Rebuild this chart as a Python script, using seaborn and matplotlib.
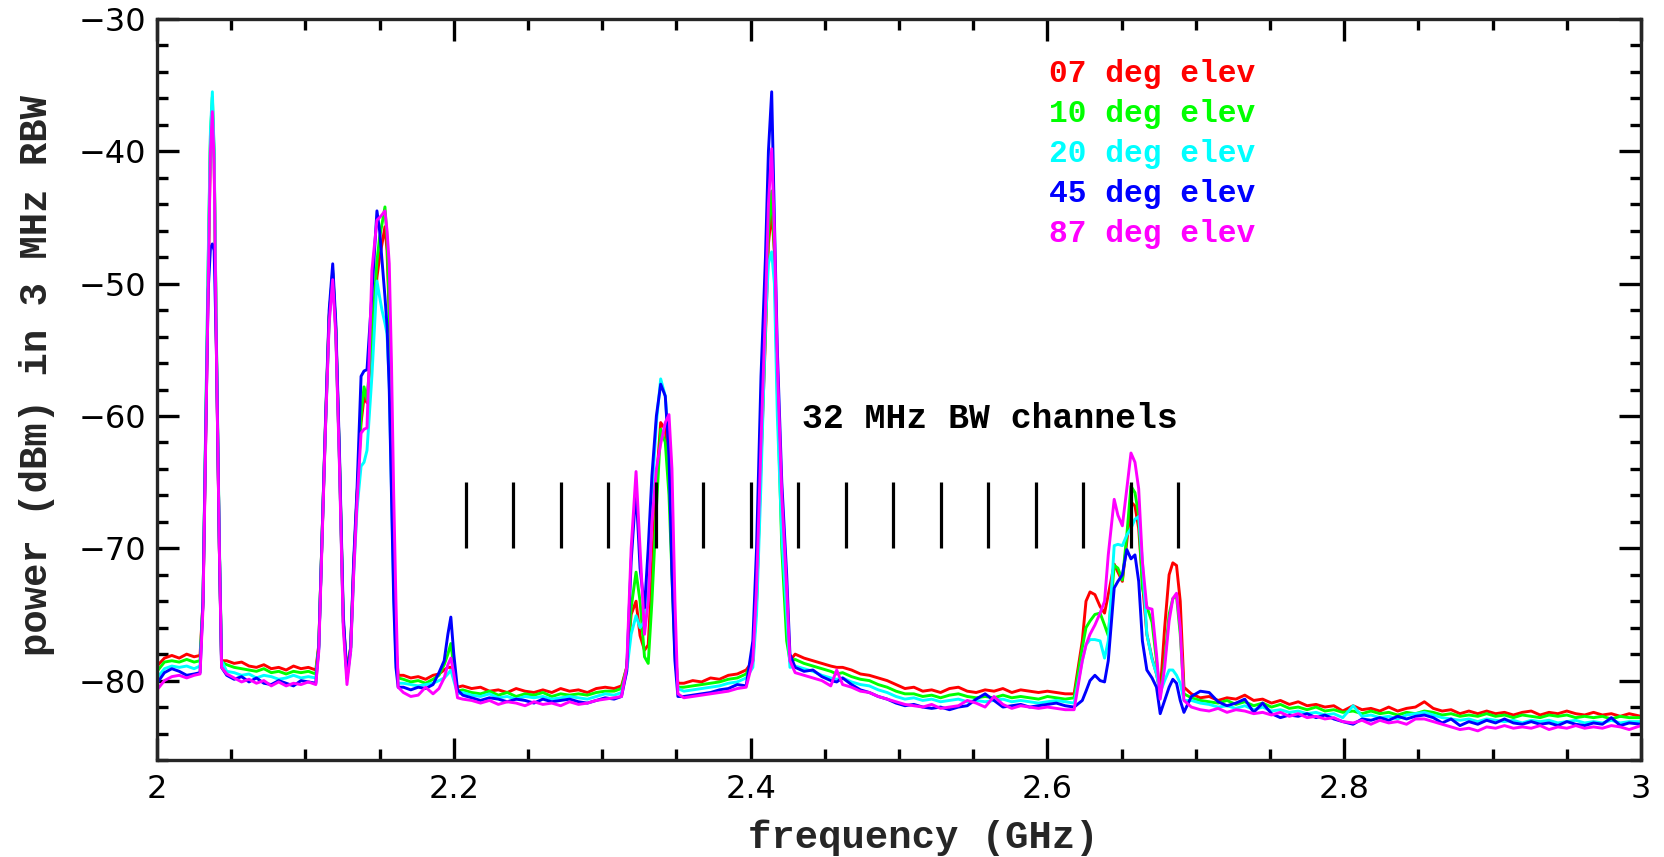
import pandas as pd
import matplotlib
matplotlib.use('Agg')
import matplotlib.pyplot as plt
from matplotlib.ticker import MultipleLocator, FuncFormatter
import seaborn as sns

# frequency grid (GHz), one segment per line
freq = [2.000, 2.005, 2.010, 2.015, 2.020, 2.025, 2.029,
        2.031, 2.0325, 2.0345, 2.036, 2.0373, 2.0385, 2.040, 2.042, 2.0435,
        2.047, 2.052, 2.057, 2.062, 2.067, 2.072, 2.077, 2.082, 2.087, 2.092, 2.097, 2.102, 2.107,
        2.109, 2.1115, 2.1135, 2.116, 2.1184, 2.1205, 2.123, 2.1255, 2.128,
        2.1305, 2.1325, 2.1348, 2.1375, 2.1395, 2.1415, 2.1448, 2.1482, 2.1500, 2.1516, 2.1536, 2.1550, 2.1565, 2.1580, 2.1595, 2.1610, 2.1625,
        2.166, 2.171, 2.176, 2.181, 2.186, 2.190,
        2.1935, 2.196, 2.198, 2.200, 2.2025,
        2.206, 2.212, 2.218, 2.224, 2.230, 2.236, 2.242, 2.248, 2.254, 2.260, 2.266, 2.272, 2.278, 2.284, 2.290, 2.296, 2.302, 2.308, 2.313,
        2.3165, 2.3195, 2.3228, 2.3255, 2.3285, 2.331, 2.3335, 2.3365, 2.3394, 2.3425, 2.345, 2.347, 2.349, 2.351,
        2.355, 2.361, 2.367, 2.373, 2.379, 2.385, 2.391, 2.397,
        2.4015, 2.404, 2.407, 2.410, 2.412, 2.4142, 2.416, 2.418, 2.421, 2.4243, 2.4265,
        2.430, 2.436, 2.442, 2.448, 2.454, 2.458, 2.462, 2.468, 2.474, 2.480, 2.486, 2.492, 2.498, 2.504, 2.510, 2.516, 2.522, 2.528, 2.534, 2.540,
        2.546, 2.552, 2.558, 2.564, 2.570, 2.576, 2.582, 2.588, 2.594, 2.600, 2.606, 2.612, 2.618,
        2.6235, 2.626, 2.6287, 2.632, 2.6355, 2.6385, 2.641, 2.645, 2.6475, 2.6505, 2.6535, 2.6563, 2.659, 2.6615, 2.664, 2.667, 2.6705, 2.6735, 2.676, 2.679, 2.682, 2.6845, 2.687, 2.6895, 2.692,
        2.697, 2.703, 2.709, 2.715, 2.721, 2.727, 2.733, 2.739, 2.745, 2.751,
        2.757, 2.763, 2.769, 2.775, 2.781, 2.787, 2.793, 2.799, 2.806, 2.812,
        2.818, 2.824, 2.830, 2.836, 2.842, 2.848, 2.854, 2.860, 2.866, 2.872,
        2.878, 2.884, 2.890, 2.896, 2.902, 2.908, 2.914, 2.920, 2.926, 2.932,
        2.938, 2.944, 2.950, 2.956, 2.962, 2.968, 2.974, 2.980, 2.986, 2.992,
        3.000]

elev07 = [-78.9, -78.3, -78.1, -78.3, -78.0, -78.2, -78.1,
          -74.0, -63.5, -49.0, -39.5, -36.8, -40.5, -54.5, -70.0, -78.5,
          -78.5, -78.7, -78.6, -78.9, -79.0, -78.8, -79.1, -79.0, -79.2, -78.9, -79.1, -79.0, -79.2,
          -77.3, -68.0, -60.8, -52.5, -49.2, -53.5, -63.5, -75.5, -79.3,
          -77.5, -71.5, -66.0, -60.5, -58.6, -59.0, -54.5, -49.5, -48.0, -47.0, -45.7, -47.5, -52.5, -61.0, -70.5, -77.5, -79.6,
          -79.6, -79.8, -79.7, -79.9, -79.6, -79.5,
          -79.2, -79.0, -79.0, -79.8, -80.5,
          -80.4, -80.6, -80.5, -80.8, -80.7, -80.9, -80.6, -80.8, -80.9, -80.7, -80.9, -80.6, -80.8, -80.7, -80.9, -80.6, -80.5, -80.6, -80.4,
          -79.0, -75.0, -74.0, -76.6, -77.7, -77.3, -72.0, -65.0, -60.5, -61.0, -64.0, -71.0, -77.5, -80.2,
          -80.2, -80.0, -80.1, -79.8, -79.9, -79.6, -79.5, -79.2,
          -78.5, -74.0, -63.5, -54.0, -47.0, -44.5, -47.5, -57.0, -67.0, -74.0, -78.5,
          -78.0, -78.3, -78.5, -78.7, -78.9, -79.0, -79.0, -79.2, -79.5, -79.6, -79.8, -80.0, -80.3, -80.6, -80.5, -80.8, -80.7, -80.9, -80.6, -80.5,
          -80.8, -80.9, -80.7, -80.8, -80.6, -80.9, -80.7, -80.8, -80.9, -80.8, -80.9, -81.0, -81.0,
          -77.0, -74.0, -73.3, -73.5, -74.4, -74.9, -73.5, -71.2, -71.8, -72.5, -69.5, -66.5, -66.8, -68.5, -72.5, -76.5, -78.3, -79.5, -80.9, -76.0, -72.0, -71.1, -71.3, -74.0, -80.5,
          -81.0, -81.3, -81.2, -81.5, -81.3, -81.4, -81.1, -81.5, -81.4, -81.7,
          -81.5, -81.8, -81.6, -81.9, -81.8, -82.0, -81.9, -82.3, -81.9, -82.2,
          -82.1, -82.3, -82.0, -82.3, -82.1, -82.0, -81.6, -82.1, -82.3, -82.2,
          -82.5, -82.3, -82.5, -82.3, -82.5, -82.4, -82.6, -82.4, -82.3, -82.6,
          -82.4, -82.5, -82.3, -82.5, -82.6, -82.4, -82.6, -82.5, -82.7, -82.5,
          -82.7]

elev10 = [-79.3, -78.6, -78.5, -78.6, -78.4, -78.6, -78.5,
          -74.0, -63.0, -48.5, -38.8, -35.9, -40.2, -54.2, -69.8, -78.6,
          -78.8, -79.0, -79.1, -79.2, -79.3, -79.1, -79.4, -79.3, -79.5, -79.3, -79.4, -79.3, -79.5,
          -77.4, -68.0, -60.8, -52.5, -49.0, -53.5, -63.5, -75.5, -79.5,
          -77.5, -71.5, -66.0, -60.0, -57.8, -58.8, -54.0, -48.3, -46.5, -45.5, -44.2, -46.5, -52.0, -60.5, -70.0, -77.5, -79.8,
          -79.9, -80.1, -80.0, -80.2, -79.9, -79.6,
          -78.8, -78.0, -77.2, -79.0, -80.8,
          -80.7, -80.9, -81.0, -80.8, -81.1, -80.9, -81.2, -81.0, -81.1, -80.9, -81.2, -81.0, -81.1, -81.0, -81.1, -80.9, -80.8, -80.8, -80.6,
          -79.0, -74.5, -71.8, -74.0, -78.2, -78.7, -74.0, -67.0, -61.0, -62.0, -66.0, -72.0, -78.0, -80.5,
          -80.5, -80.4, -80.3, -80.2, -80.1, -79.9, -79.8, -79.5,
          -78.5, -74.0, -63.0, -53.5, -46.0, -43.0, -47.5, -58.0, -70.0, -77.0, -78.5,
          -78.4, -78.7, -78.9, -79.1, -79.3, -79.5, -79.4, -79.7, -79.9, -80.0, -80.3, -80.5, -80.8, -81.0, -81.0, -81.2, -81.1, -81.3, -81.1, -81.0,
          -81.2, -81.3, -81.2, -81.3, -81.1, -81.3, -81.2, -81.3, -81.4, -81.2, -81.3, -81.4, -81.3,
          -77.5, -76.0, -75.5, -75.0, -74.9, -75.8, -76.6, -71.3, -71.5, -72.4, -69.0, -65.3, -65.8, -67.5, -73.0, -74.4, -75.6, -78.5, -81.2, -78.5, -75.0, -73.8, -73.6, -76.5, -81.0,
          -81.3, -81.5, -81.6, -81.7, -81.5, -81.8, -81.6, -81.9, -81.7, -82.0,
          -81.8, -82.1, -82.0, -82.2, -82.0, -82.3, -82.2, -82.4, -82.3, -82.5,
          -82.3, -82.5, -82.4, -82.6, -82.4, -82.5, -82.3, -82.4, -82.6, -82.5,
          -82.7, -82.6, -82.7, -82.5, -82.7, -82.6, -82.8, -82.6, -82.7, -82.8,
          -82.6, -82.7, -82.6, -82.8, -82.7, -82.8, -82.7, -82.9, -82.7, -82.8,
          -82.8]

elev20 = [-79.8, -79.1, -78.9, -79.0, -78.9, -79.1, -78.9,
          -74.0, -63.0, -48.0, -38.5, -35.5, -40.0, -54.0, -69.5, -78.5,
          -79.3, -79.4, -79.6, -79.5, -79.8, -79.6, -79.7, -79.9, -79.8, -79.6, -79.8, -79.7, -79.8,
          -77.6, -68.2, -61.0, -52.8, -49.3, -53.7, -63.8, -75.7, -79.8,
          -77.8, -72.0, -67.0, -63.8, -63.5, -62.6, -57.0, -49.8, -51.0, -52.0, -53.0, -53.8, -57.5, -65.5, -73.0, -78.5, -80.2,
          -80.2, -80.3, -80.4, -80.3, -80.2, -80.0,
          -79.8, -79.5, -79.2, -80.0, -81.0,
          -80.9, -81.1, -81.2, -81.0, -81.3, -81.2, -81.4, -81.2, -81.3, -81.2, -81.4, -81.3, -81.2, -81.3, -81.4, -81.2, -81.0, -81.1, -80.9,
          -79.3, -76.5, -75.1, -76.0, -75.5, -72.0, -66.0, -60.5, -57.2, -58.5, -62.5, -70.0, -77.0, -80.6,
          -80.8, -80.7, -80.6, -80.5, -80.4, -80.2, -80.1, -79.8,
          -79.0, -75.0, -65.0, -53.0, -48.5, -47.6, -50.0, -60.0, -69.0, -75.0, -79.0,
          -78.9, -79.1, -79.3, -79.6, -79.8, -79.9, -79.8, -80.1, -80.3, -80.4, -80.7, -80.9, -81.2, -81.4, -81.3, -81.5, -81.4, -81.6, -81.5, -81.4,
          -81.6, -81.5, -81.6, -81.5, -81.4, -81.6, -81.5, -81.6, -81.7, -81.6, -81.5, -81.6, -81.7,
          -78.5, -77.3, -76.9, -76.9, -77.0, -78.3, -77.0, -69.8, -69.7, -69.8, -69.0, -68.5, -67.8, -67.6, -71.0, -76.5, -78.4, -79.5, -80.9, -80.0, -79.2, -79.2, -79.6, -80.2, -81.5,
          -81.5, -81.7, -81.8, -82.0, -81.9, -82.1, -81.9, -82.2, -82.0, -82.3,
          -82.2, -82.4, -82.3, -82.5, -82.4, -82.6, -82.5, -82.8, -81.9, -82.7,
          -82.6, -82.8, -82.7, -82.9, -82.6, -82.5, -82.4, -82.6, -82.8, -82.9,
          -83.0, -82.9, -83.1, -82.9, -83.0, -83.1, -83.0, -83.2, -83.0, -83.1,
          -83.0, -83.2, -83.1, -83.0, -83.2, -83.1, -83.2, -83.0, -83.2, -83.1,
          -83.1]

elev45 = [-80.2, -79.4, -79.1, -79.3, -79.6, -79.5, -79.4,
          -74.0, -63.5, -50.5, -47.3, -47.0, -47.5, -55.0, -70.0, -79.0,
          -79.6, -79.9, -79.7, -80.1, -79.8, -80.2, -80.3, -80.0, -80.2, -80.4, -80.0, -80.1, -80.2,
          -77.5, -68.0, -60.5, -52.0, -48.5, -53.0, -63.0, -75.0, -79.8,
          -77.5, -71.0, -65.5, -57.0, -56.6, -56.5, -50.8, -44.5, -46.0, -48.2, -51.0, -53.2, -58.0, -66.0, -74.0, -79.0, -80.5,
          -80.5, -80.7, -80.5, -80.6, -80.3, -79.4,
          -78.5, -76.5, -75.2, -78.0, -80.7,
          -81.1, -81.3, -81.5, -81.3, -81.4, -81.6, -81.4, -81.5, -81.7, -81.4, -81.6, -81.5, -81.4, -81.6, -81.7, -81.5, -81.3, -81.4, -81.2,
          -79.3, -71.0, -65.5, -71.5, -74.5, -70.0, -64.5, -60.0, -57.6, -58.5, -63.0, -72.0, -78.5, -81.2,
          -81.2, -81.1, -81.0, -80.9, -80.7, -80.6, -80.3, -80.4,
          -77.0, -70.0, -57.0, -48.0, -40.0, -35.5, -45.0, -55.0, -65.0, -72.0, -78.0,
          -79.0, -79.3, -79.2, -79.7, -80.0, -80.1, -79.8, -80.3, -80.7, -80.9, -81.2, -81.4, -81.7, -81.9, -81.8, -82.0, -82.1, -82.0, -82.2, -82.0,
          -81.9, -81.4, -81.0, -81.5, -82.0, -81.9, -81.8, -82.0, -81.9, -81.8, -81.7, -81.9, -82.0,
          -81.5, -80.8, -80.0, -79.6, -80.0, -80.1, -78.5, -73.0, -72.5, -72.0, -70.1, -70.8, -70.5, -72.5, -77.0, -79.2, -79.8, -80.5, -82.5, -81.5, -80.5, -79.9, -80.2, -81.5, -82.4,
          -81.2, -80.8, -80.9, -81.6, -81.9, -81.7, -81.4, -82.4, -81.7, -82.5,
          -82.8, -82.6, -82.7, -82.5, -82.8, -82.6, -82.9, -83.1, -83.3, -82.9,
          -83.0, -82.8, -83.0, -82.7, -82.9, -82.7, -82.6, -82.8, -83.2, -82.9,
          -83.4, -83.1, -83.3, -83.0, -83.2, -82.9, -83.2, -83.3, -83.1, -83.3,
          -83.2, -83.4, -83.1, -83.3, -83.4, -83.2, -83.3, -82.8, -83.4, -83.2,
          -83.3]

elev87 = [-80.7, -80.0, -79.7, -79.6, -79.8, -79.6, -79.5,
          -74.5, -64.0, -50.0, -40.0, -37.0, -41.0, -55.0, -70.0, -79.0,
          -79.5, -79.8, -80.1, -79.9, -80.2, -80.0, -80.4, -80.1, -80.4, -80.2, -80.3, -80.1, -80.3,
          -77.8, -68.5, -61.0, -53.0, -49.7, -54.0, -64.0, -76.0, -80.3,
          -77.8, -72.0, -66.5, -61.3, -61.0, -60.9, -49.0, -45.2, -45.0, -44.8, -44.5, -46.0, -48.5, -56.0, -66.0, -74.0, -80.5,
          -80.9, -81.2, -81.1, -80.5, -81.0, -80.6,
          -79.8, -78.8, -78.3, -79.5, -81.3,
          -81.4, -81.5, -81.7, -81.5, -81.8, -81.6, -81.7, -81.9, -81.6, -81.8, -81.7, -81.9, -81.6, -81.8, -81.7, -81.5, -81.4, -81.3, -81.2,
          -79.0, -70.0, -64.2, -70.0, -76.5, -74.0, -68.0, -64.0, -62.1, -60.5, -59.9, -64.0, -74.0, -81.0,
          -81.3, -81.2, -81.1, -81.0, -80.9, -80.8, -80.6, -80.5,
          -78.5, -73.0, -62.0, -52.0, -44.0, -39.8, -46.0, -56.0, -66.0, -73.0, -78.5,
          -79.4, -79.6, -79.8, -80.0, -80.4, -79.2, -80.3, -80.5, -80.8, -80.9, -81.2, -81.4, -81.6, -81.8, -81.9, -82.0, -81.8, -82.1, -82.0, -81.9,
          -81.5, -81.7, -82.0, -81.2, -81.8, -82.1, -81.9, -82.0, -82.1, -82.0, -82.1, -82.2, -82.2,
          -78.5, -77.3, -76.5, -75.8, -74.9, -74.0, -70.5, -66.3, -67.5, -68.3, -65.5, -62.8, -63.5, -65.5, -71.0, -74.5, -74.6, -78.0, -81.4, -79.0, -75.5, -73.8, -73.4, -76.0, -81.5,
          -82.0, -82.2, -82.3, -82.1, -82.4, -82.2, -82.3, -82.5, -82.4, -82.6,
          -82.4, -82.7, -82.5, -82.8, -82.7, -82.9, -82.8, -83.1, -83.2, -83.0,
          -83.3, -83.0, -83.2, -83.1, -83.3, -82.9, -82.9, -83.1, -83.3, -83.5,
          -83.7, -83.6, -83.8, -83.5, -83.6, -83.4, -83.6, -83.5, -83.6, -83.4,
          -83.7, -83.5, -83.6, -83.4, -83.6, -83.5, -83.6, -83.4, -83.5, -83.7,
          -83.4]

elev_labels = ['07', '10', '20', '45', '87']
elev_colors = ['#ff0000', '#00ff00', '#00ffff', '#0000ff', '#ff00ff']
channels = [2.208, 2.240, 2.272, 2.304, 2.336, 2.368, 2.400, 2.432,
            2.464, 2.496, 2.528, 2.560, 2.592, 2.624, 2.656, 2.688]

series = [elev07, elev10, elev20, elev45, elev87]
for s in series:
    assert len(s) == len(freq), (len(s), len(freq))

df = pd.DataFrame({
    'freq': freq * len(series),
    'power': [v for s in series for v in s],
    'elev': [lab for lab in elev_labels for _ in freq],
})

sns.set_style('ticks')
plt.rcParams['font.family'] = ['DejaVu Sans']
plt.rcParams['axes.linewidth'] = 2.4

fig = plt.figure(figsize=(16.65, 8.57), dpi=100)
ax = fig.add_axes([0.0943, 0.1132, 0.8913, 0.8646])

sns.lineplot(data=df, x='freq', y='power', hue='elev', hue_order=elev_labels,
             palette=dict(zip(elev_labels, elev_colors)), estimator=None,
             sort=False, linewidth=2.1, legend=False, ax=ax)

ax.vlines(channels, -70, -65, color='black', linewidth=2.3)

mono = dict(family='Liberation Mono', fontweight='bold')
ax.text(2.4346, -60.9, '32 MHz BW channels', fontsize=25, color='black',
        ha='left', va='baseline', **mono)
legend_y = [-34.77, -37.79, -40.81, -43.83, -46.85]
for lab, col, yy in zip(elev_labels, elev_colors, legend_y):
    ax.text(2.6012, yy, lab + ' deg elev', fontsize=22.5, color=col,
            ha='left', va='baseline', **mono)

ax.set_xlim(2.0, 3.0)
ax.set_ylim(-86, -30)
ax.xaxis.set_major_locator(MultipleLocator(0.2))
ax.xaxis.set_minor_locator(MultipleLocator(0.05))
ax.yaxis.set_major_locator(MultipleLocator(10))
ax.yaxis.set_minor_locator(MultipleLocator(2))
ax.xaxis.set_major_formatter(FuncFormatter(lambda v, p: '%g' % round(v, 3)))
ax.tick_params(which='both', direction='in', top=True, right=True,
               width=2.4, labelsize=23, colors='black')
ax.tick_params(which='major', length=15.8)
ax.tick_params(which='minor', length=7.9)
ax.tick_params(axis='y', pad=8)
ax.tick_params(axis='x', pad=10)
ax.set_xlabel('')
ax.set_ylabel('')

fig.text(0.5544, 0.0105, 'frequency (GHz)', fontsize=28, ha='center',
         va='baseline', **mono)
fig.text(0.022, 0.5613, 'power (dBm) in 3 MHz RBW', fontsize=28, ha='center',
         va='center', rotation=90, **mono)

fig.savefig('out.png', dpi=100)
